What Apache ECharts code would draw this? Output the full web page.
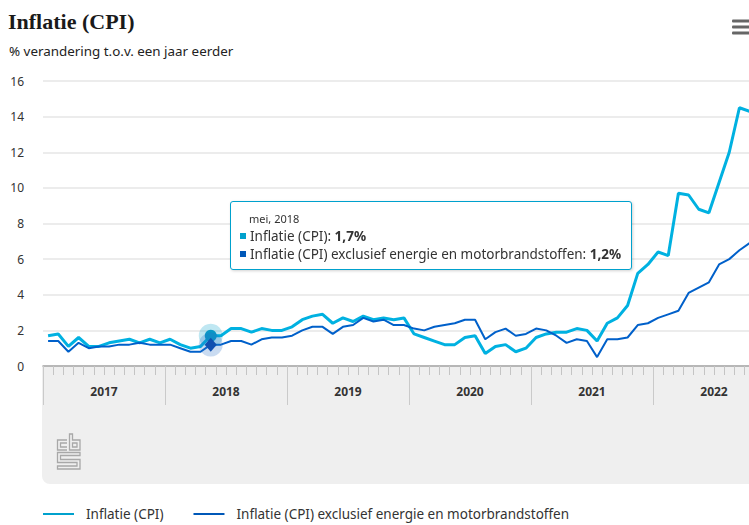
<!DOCTYPE html>
<html><head><meta charset="utf-8">
<script src="https://cdn.jsdelivr.net/npm/echarts@6/dist/echarts.min.js"></script>
<style>html,body{margin:0;padding:0;background:#fff;overflow:hidden}#c{width:749px;height:525px}</style>
</head><body><div id="c"></div>
<script>
// ---- data ----
const years = ['2017', '2018', '2019', '2020', '2021', '2022'];
const monthNames = ['jan', 'feb', 'mrt', 'apr', 'mei', 'jun', 'jul', 'aug', 'sep', 'okt', 'nov', 'dec'];
const seriesNames = ['Inflatie (CPI)', 'Inflatie (CPI) exclusief energie en motorbrandstoffen'];
const cpi = [
  1.7, 1.8, 1.1, 1.6, 1.1, 1.1, 1.3, 1.4, 1.5, 1.3, 1.5, 1.3,
  1.5, 1.2, 1.0, 1.1, 1.7, 1.7, 2.1, 2.1, 1.9, 2.1, 2.0, 2.0,
  2.2, 2.6, 2.8, 2.9, 2.4, 2.7, 2.5, 2.8, 2.6, 2.7, 2.6, 2.7,
  1.8, 1.6, 1.4, 1.2, 1.2, 1.6, 1.7, 0.7, 1.1, 1.2, 0.8, 1.0,
  1.6, 1.8, 1.9, 1.9, 2.1, 2.0, 1.4, 2.4, 2.7, 3.4, 5.2, 5.7,
  6.4, 6.2, 9.7, 9.6, 8.8, 8.6, 10.3, 12.0, 14.5, 14.3
];
const cpiExcl = [
  1.4, 1.4, 0.8, 1.3, 1.0, 1.1, 1.1, 1.2, 1.2, 1.3, 1.2, 1.2,
  1.2, 1.0, 0.8, 0.8, 1.2, 1.2, 1.4, 1.4, 1.2, 1.5, 1.6, 1.6,
  1.7, 2.0, 2.2, 2.2, 1.8, 2.2, 2.3, 2.7, 2.5, 2.6, 2.3, 2.3,
  2.1, 2.0, 2.2, 2.3, 2.4, 2.6, 2.6, 1.5, 1.9, 2.1, 1.7, 1.8,
  2.1, 2.0, 1.7, 1.3, 1.5, 1.4, 0.5, 1.5, 1.5, 1.6, 2.3, 2.4,
  2.7, 2.9, 3.1, 4.1, 4.4, 4.7, 5.7, 6.0, 6.5, 6.9
];
const yTicks = [0, 2, 4, 6, 8, 10, 12, 14, 16];
const highlightMonth = 'mei, 2018';

// ---- build ----
const categories = [];
years.forEach(y => monthNames.forEach(m => categories.push(m + ', ' + y)));
const HI = categories.indexOf(highlightMonth);
const FONT = 'Noto Sans';
const C1 = '#00a1cd', C2 = '#0058b8';
const fmt = v => v.toFixed(1).replace('.', ',') + '%';

const chart = echarts.init(document.getElementById('c'), null, {renderer: 'svg'});
chart.setOption({
  animation: false,
  color: [C1, C2],
  textStyle: {fontFamily: FONT},
  title: [
    {text: 'Inflatie (CPI)', left: 8, top: 10, padding: 0,
     textStyle: {fontFamily: 'Liberation Serif', fontWeight: 'bold', fontSize: 22, color: '#1a1a1a'}},
    {text: '% verandering t.o.v. een jaar eerder', left: 9, top: 44, padding: 0,
     textStyle: {fontFamily: FONT, fontWeight: 'normal', fontSize: 13.4, color: '#222'}}
  ],
  grid: {left: 43, top: 81, width: 72 * 10.1667, height: 285, containLabel: false, outerBoundsMode: 'none'},
  xAxis: [
    {type: 'category', data: categories, boundaryGap: true, z: 5,
     axisLine: {show: true, lineStyle: {color: '#a6a6a6', width: 1.5}},
     axisTick: {show: true, interval: 0, length: 9, lineStyle: {color: '#c4c4c4', width: 1}},
     axisLabel: {show: false}, splitLine: {show: false}},
    {type: 'category', data: years, boundaryGap: true, position: 'bottom', z: 5,
     axisLine: {show: false},
     axisTick: {show: true, interval: 0, length: 39, lineStyle: {color: '#cacaca', width: 1}},
     axisLabel: {show: true, interval: 0, margin: 19, fontFamily: FONT, fontWeight: 'bold', fontSize: 12, color: '#333'},
     splitLine: {show: false}}
  ],
  yAxis: {type: 'value', min: yTicks[0], max: yTicks[yTicks.length - 1], interval: yTicks[1] - yTicks[0],
    axisLine: {show: false}, axisTick: {show: false},
    axisLabel: {margin: 19, fontFamily: FONT, fontSize: 12, color: '#333'},
    splitLine: {lineStyle: {color: '#e6e6e6', width: 1.5}}},
  legend: {
    left: 43, top: 507, padding: 0, icon: 'rect', itemWidth: 31, itemHeight: 2, itemGap: 30,
    data: seriesNames,
    textStyle: {fontFamily: FONT, fontSize: 13.5, color: '#333', padding: [0, 0, 0, 7]}
  },
  tooltip: {
    trigger: 'axis', triggerOn: 'none', alwaysShowContent: true, transitionDuration: 0,
    axisPointer: {type: 'none'},
    position: () => [230, 201],
    backgroundColor: '#ffffff', borderColor: C1, borderWidth: 1, borderRadius: 3,
    padding: [9, 10, 6, 9],
    extraCssText: 'box-shadow: 1px 1px 3px rgba(0,0,0,0.18); white-space: nowrap;',
    textStyle: {fontFamily: FONT, fontSize: 13.5, color: '#333'},
    formatter: ps => {
      let h = '<div style="font-size:11px;line-height:16px;padding-left:9px;color:#333">' + categories[ps[0].dataIndex] + '</div>';
      ps.forEach(p => {
        h += '<div style="line-height:18px;font-size:13.5px;color:#333"><span style="display:inline-block;width:6px;height:6px;background:' +
          p.color + ';margin-right:4px;vertical-align:middle;position:relative;top:-1px"></span>' + p.seriesName +
          ': <b>' + fmt(p.value) + '</b></div>';
      });
      return h;
    }
  },
  graphic: [
    {type: 'rect', z: -1, silent: true, shape: {x: 42, y: 366, width: 720, height: 118, r: [0, 0, 0, 8]}, style: {fill: '#efefef'}},
    {type: 'rect', silent: true, shape: {x: 732, y: 19.5, width: 20, height: 3, r: 1}, style: {fill: '#666'}},
    {type: 'rect', silent: true, shape: {x: 732, y: 25.5, width: 20, height: 3, r: 1}, style: {fill: '#666'}},
    {type: 'rect', silent: true, shape: {x: 732, y: 31.5, width: 20, height: 3, r: 1}, style: {fill: '#666'}},
    {type: 'polyline', silent: true, shape: {points: [[67, 440], [57.5, 440], [57.5, 450], [67, 450]]}, style: {stroke: '#a8a8a8', lineWidth: 1.3, fill: null}},
    {type: 'polyline', silent: true, shape: {points: [[67, 443], [60.5, 443], [60.5, 447], [67, 447]]}, style: {stroke: '#a8a8a8', lineWidth: 1.3, fill: null}},
    {type: 'polygon', silent: true, shape: {points: [[69.5, 434], [72.5, 434], [72.5, 440], [80, 440], [80, 450], [69.5, 450]]}, style: {stroke: '#a8a8a8', lineWidth: 1.3, fill: null}},
    {type: 'polygon', silent: true, shape: {points: [[72.5, 443], [77, 443], [77, 447], [72.5, 447]]}, style: {stroke: '#a8a8a8', lineWidth: 1.3, fill: null}},
    {type: 'polygon', silent: true, shape: {points: [[57.5, 452.5], [80, 452.5], [80, 455.5], [60.5, 455.5], [60.5, 459.5], [80, 459.5], [80, 469], [57.5, 469], [57.5, 466], [77, 466], [77, 462.5], [57.5, 462.5]]}, style: {stroke: '#a8a8a8', lineWidth: 1.3, fill: null}}
  ],
  series: [
    {name: seriesNames[0], type: 'line', data: cpi, symbol: 'none', z: 3,
     lineStyle: {width: 3, color: C1}, itemStyle: {color: C1},
     markPoint: {silent: true, animation: false, label: {show: false},
       data: [
         {coord: [categories[HI], cpi[HI]], symbol: 'circle', symbolSize: 24, itemStyle: {color: 'rgba(0,161,205,0.25)'}},
         {coord: [categories[HI], cpi[HI]], symbol: 'circle', symbolSize: 12, itemStyle: {color: '#0a98c6'}}
       ]}},
    {name: seriesNames[1], type: 'line', data: cpiExcl, symbol: 'none', z: 4,
     lineStyle: {width: 2, color: C2}, itemStyle: {color: C2},
     markPoint: {silent: true, animation: false, label: {show: false},
       data: [
         {coord: [categories[HI], cpiExcl[HI]], symbol: 'circle', symbolSize: 24, itemStyle: {color: 'rgba(40,110,200,0.25)'}},
         {coord: [categories[HI], cpiExcl[HI]], symbol: 'diamond', symbolSize: [12, 14], itemStyle: {color: '#1050b0'}}
       ]}}
  ]
});
chart.dispatchAction({type: 'showTip', seriesIndex: 0, dataIndex: HI});
setTimeout(() => chart.dispatchAction({type: 'showTip', seriesIndex: 0, dataIndex: HI}), 30);
</script></body></html>
